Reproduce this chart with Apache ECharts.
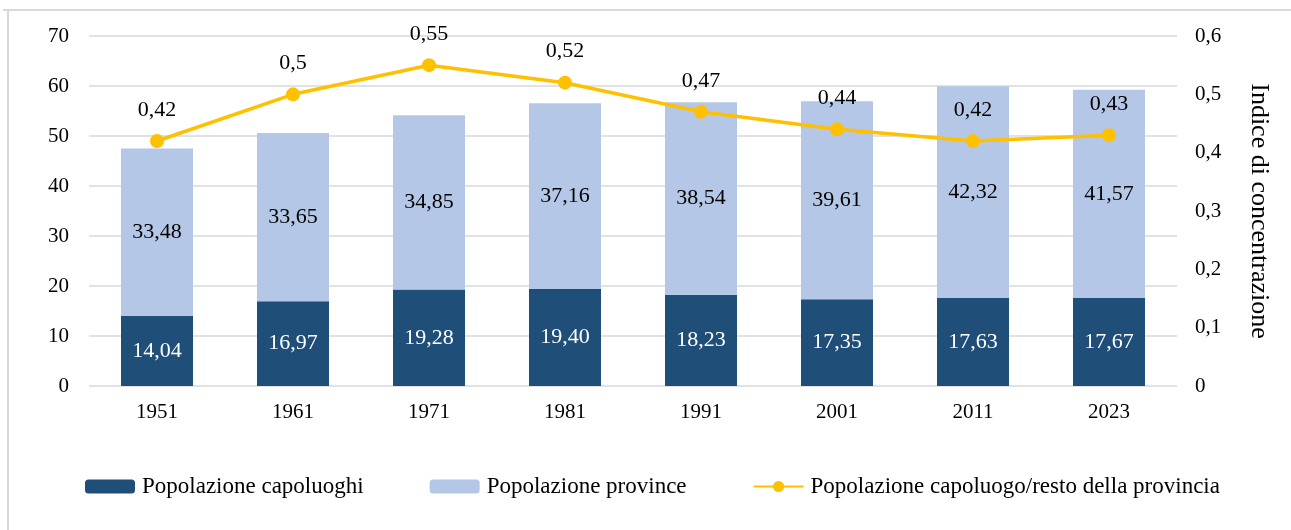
<!DOCTYPE html>
<html><head><meta charset="utf-8">
<script src="https://cdn.jsdelivr.net/npm/echarts@6/dist/echarts.min.js"></script>
<style>html,body{margin:0;padding:0;background:#fff}#c{width:1291px;height:530px}</style>
</head><body><div id="c"></div>
<script>
const categories = ['1951','1961','1971','1981','1991','2001','2011','2023'];
const capoluoghi = [14.04,16.97,19.28,19.40,18.23,17.35,17.63,17.67];
const province = [33.48,33.65,34.85,37.16,38.54,39.61,42.32,41.57];
const indice = [0.42,0.5,0.55,0.52,0.47,0.44,0.42,0.43];
const seriesNames = ['Popolazione capoluoghi','Popolazione province','Popolazione capoluogo/resto della provincia'];
const rightAxisName = 'Indice di concentrazione';

const FONT = 'Liberation Serif';
const comma = v => String(v).replace('.', ',');
const fix2 = v => v.toFixed(2).replace('.', ',');

const chart = echarts.init(document.getElementById('c'), null, {renderer:'canvas'});
chart.setOption({
  animation:false,
  textStyle:{fontFamily:FONT},
  graphic:[
    {type:'line', shape:{x1:3,y1:10,x2:1291,y2:10}, style:{stroke:'#D9D9D9',lineWidth:2}},
    {type:'line', shape:{x1:8,y1:10,x2:8,y2:530}, style:{stroke:'#D9D9D9',lineWidth:2}}
  ],
  grid:{left:89,right:114,top:36,bottom:144,containLabel:false},
  legend:{
    left:80, top:470, itemWidth:50, itemHeight:14, itemGap:66,
    textStyle:{fontFamily:FONT,fontSize:23,color:'#000',padding:[0,0,0,2]},
    data:seriesNames
  },
  xAxis:{
    type:'category', data:categories,
    axisLine:{show:false}, axisTick:{show:false},
    axisLabel:{fontFamily:FONT,fontSize:21,color:'#000',margin:16}
  },
  yAxis:[
    {type:'value',min:0,max:70,interval:10,
     axisLine:{show:false},axisTick:{show:false},
     splitLine:{lineStyle:{color:'#D9D9D9',width:1.5}},
     axisLabel:{fontFamily:FONT,fontSize:21,color:'#000',margin:20}},
    {type:'value',min:0,max:0.6,interval:0.1,position:'right',
     axisLine:{show:false},axisTick:{show:false},splitLine:{show:false},
     axisLabel:{fontFamily:FONT,fontSize:21,color:'#000',margin:18,formatter:v=>comma(Math.round(v*10)/10)},
     name:rightAxisName,nameLocation:'middle',nameRotate:-90,nameGap:69,
     nameTextStyle:{fontFamily:FONT,fontSize:26,color:'#000'}}
  ],
  series:[
    {name:seriesNames[0],type:'bar',stack:'tot',barWidth:72,data:capoluoghi,
     itemStyle:{color:'#1F4E79'},
     label:{show:true,position:'inside',color:'#fff',fontFamily:FONT,fontSize:22,formatter:p=>fix2(p.value)}},
    {name:seriesNames[1],type:'bar',stack:'tot',barWidth:72,data:province,
     itemStyle:{color:'#B4C7E7'},
     label:{show:true,position:'inside',color:'#000',fontFamily:FONT,fontSize:22,formatter:p=>fix2(p.value)}},
    {name:seriesNames[2],type:'line',yAxisIndex:1,data:indice,
     symbol:'circle',symbolSize:14,
     lineStyle:{color:'#FFC000',width:3.5},itemStyle:{color:'#FFC000'},
     label:{show:true,position:'top',distance:13,color:'#000',fontFamily:FONT,fontSize:22,formatter:p=>comma(p.value)}}
  ]
});
</script></body></html>
